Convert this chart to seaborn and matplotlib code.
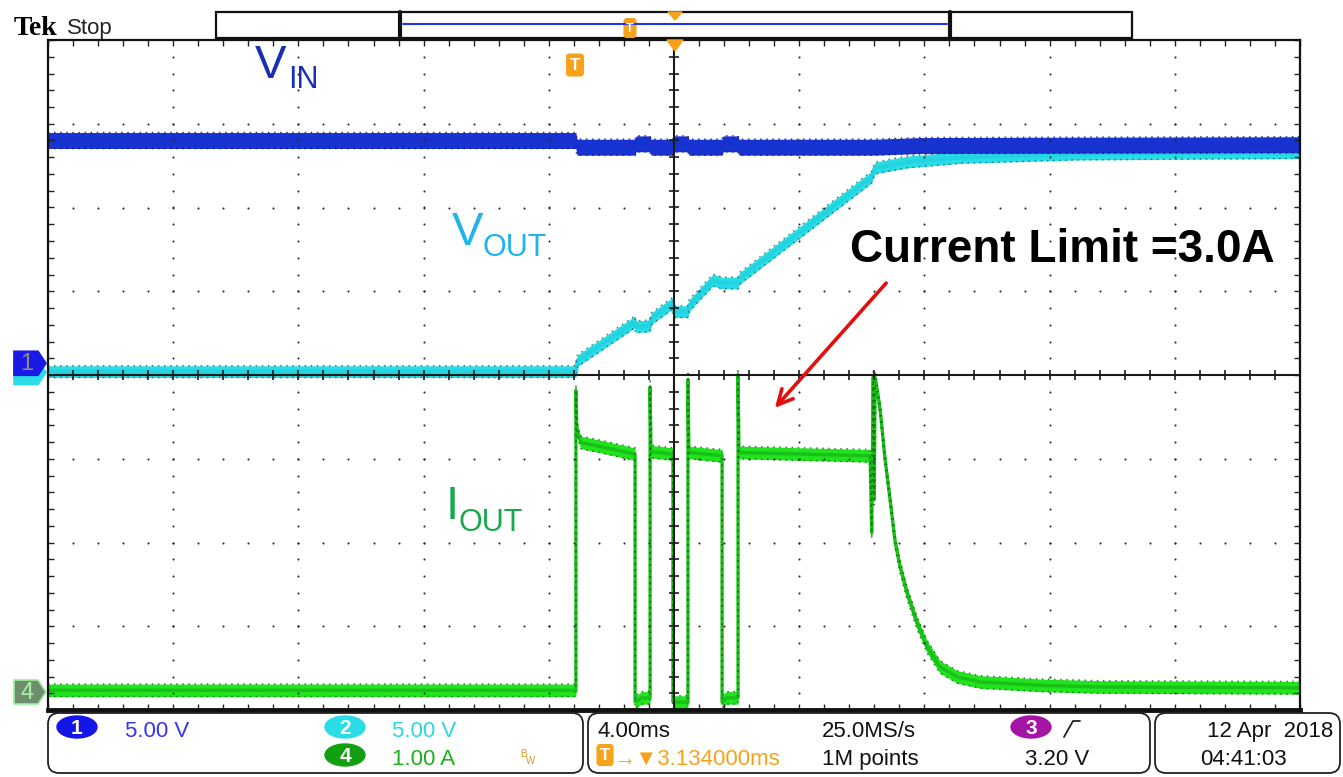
import logging
import numpy as np
import matplotlib
matplotlib.use("Agg")
import matplotlib.pyplot as plt
from matplotlib.patches import FancyBboxPatch, Polygon, Rectangle, Ellipse
import seaborn as sns

logging.getLogger("matplotlib.font_manager").setLevel(logging.ERROR)

W, H = 1343, 777

# ---- acquisition settings ----
time_per_div = 4.0          # ms/div
trig_delay = 3.134          # ms, screen centre relative to trigger
n_xdiv, n_ydiv = 10, 8

ch1_scale, ch1_pos = 5.0, 0.14     # V/div, ground marker (div from centre)
ch2_scale, ch2_pos = 5.0, 0.03
ch4_scale, ch4_pos = 1.0, -3.785   # A/div

# ---- captured waveforms (time in ms from trigger) ----
vin_t = [-16.87, 0.0, 0.03, 1.89, 1.92, 2.37, 2.40, 3.10, 3.13, 3.58, 3.61,
         4.67, 4.70, 5.18, 5.21, 9.5, 11.0, 23.14]
vin_v = [13.3, 13.3, 12.9, 12.9, 13.1, 13.1, 12.9, 12.9, 13.1, 13.1, 12.9,
         12.9, 13.1, 13.1, 12.9, 12.9, 13.0, 13.05]

vout_t = [-16.87, 0.0, 0.05, 1.89, 1.90, 2.37, 2.40, 3.10, 3.12, 3.58, 3.62,
          4.38, 4.67, 5.18, 5.22, 9.45, 9.55, 9.9, 10.6, 12.3, 16.0, 23.14]
vout_v = [0.05, 0.05, 0.7, 3.03, 2.73, 2.78, 3.2, 4.15, 3.63, 3.63, 4.0,
          5.52, 5.34, 5.34, 5.6, 11.67, 12.2, 12.33, 12.57, 12.84, 13.04, 13.13]

iout_t = [-16.87, 0.0, 0.0, 0.03, 0.15, 0.8, 1.89, 1.89, 2.1, 2.37, 2.37, 2.40,
          3.10, 3.10, 3.58, 3.58, 3.61, 4.67, 4.67, 4.8, 5.18, 5.18, 5.21,
          9.40, 9.45, 9.50, 9.53, 9.56, 9.65, 9.72, 9.88, 10.04, 10.20, 10.36,
          10.58, 10.90, 11.22, 11.63, 12.18, 12.91, 14.83, 16.74, 23.14]
iout_a = [0.02, 0.02, 3.60, 3.15, 2.98, 2.93, 2.84, -0.12, -0.07, -0.07, 3.64, 2.87,
          2.84, -0.12, -0.12, 3.73, 2.86, 2.82, -0.12, -0.07, -0.07, 3.79, 2.86,
          2.82, 1.90, 3.76, 2.30, 3.75, 3.55, 3.37, 2.77, 2.29, 1.79, 1.49,
          1.18, 0.82, 0.54, 0.30, 0.18, 0.12, 0.08, 0.06, 0.05]

# ---- readout text ----
ch_readout = [("1", "5.00 V"), ("2", "5.00 V"), ("4", "1.00 A")]
timebase = "4.00ms"
delay_text = "\u2192\u25bc3.134000ms"
sample_rate = "25.0MS/s"
record_len = "1M points"
trig_src, trig_level = "3", "3.20 V"
date_text, time_text = "12 Apr  2018", "04:41:03"

sns.set_theme(style="white")
plt.rcParams["font.family"] = ["Liberation Sans", "DejaVu Sans"]
scope_font = ["Liberation Sans Narrow", "Liberation Sans", "DejaVu Sans"]

fig = plt.figure(figsize=(W / 100, H / 100), dpi=100, facecolor="white")
rect = [48 / W, 1 - 710 / H, 1252 / W, 670 / H]
t_lo = trig_delay - n_xdiv / 2 * time_per_div
t_hi = trig_delay + n_xdiv / 2 * time_per_div


def channel_axes(scale, pos, z):
    a = fig.add_axes(rect, zorder=z)
    a.set_xlim(t_lo, t_hi)
    a.set_ylim((-n_ydiv / 2 - pos) * scale, (n_ydiv / 2 - pos) * scale)
    a.patch.set_alpha(0)
    a.axis("off")
    return a


def draw_trace(a, t, y, scale, half, band, core, speck, lw):
    t = np.asarray(t, float)
    y = np.asarray(y, float)
    h = half * scale
    a.fill_between(t, y - h, y + h, color=band, lw=0)
    sns.lineplot(x=t, y=y, ax=a, color=core, linewidth=lw,
                 sort=False, estimator=None)
    for s in (-1, 1):
        a.plot(t, y + s * h, color=speck, lw=1.1, ls=(0, (1, 3)), alpha=0.85)


ax4 = channel_axes(ch4_scale, ch4_pos, 1)
ax4.patch.set_alpha(1)
ax4.patch.set_facecolor("white")
draw_trace(ax4, iout_t, iout_a, ch4_scale, 0.075, "#22E41E", "#18C018", "#0C6E0C", 2.4)

ax2 = channel_axes(ch2_scale, ch2_pos, 2)
draw_trace(ax2, vout_t, vout_v, ch2_scale, 0.07, "#2ADCE6", "#22D4E0", "#0F6E74", 3.0)

ax1 = channel_axes(ch1_scale, ch1_pos, 3)
draw_trace(ax1, vin_t, vin_v, ch1_scale, 0.095, "#1932D2", "#1632CE", "#0B1670", 3.0)

# ---- graticule (division units) ----
g = fig.add_axes(rect, zorder=4)
g.patch.set_alpha(0)
g.set_xlim(0, n_xdiv)
g.set_ylim(-n_ydiv / 2, n_ydiv / 2)
g.grid(False)
for sp in g.spines.values():
    sp.set_color("#111111")
    sp.set_linewidth(1.6)
    sp.set_visible(True)
g.spines["bottom"].set_linewidth(3.5)
minor_x = np.arange(0, n_xdiv + 0.001, 0.2)
minor_y = np.arange(-n_ydiv / 2, n_ydiv / 2 + 0.001, 0.2)
g.set_xticks(minor_x)
g.set_yticks(minor_y)
g.tick_params(direction="in", length=4, width=1, color="#222222",
              top=True, right=True, bottom=True, left=True,
              labelbottom=False, labelleft=False)
dot_kw = dict(s=2.2, color="#2a2a2a", linewidths=0)
for k in range(1, n_xdiv):
    if k != n_xdiv // 2:
        g.scatter(np.full(len(minor_y[1:-1]), k), minor_y[1:-1], **dot_kw)
for m in range(-n_ydiv // 2 + 1, n_ydiv // 2):
    if m != 0:
        g.scatter(minor_x[1:-1], np.full(len(minor_x[1:-1]), m), **dot_kw)
g.axhline(0, color="#1a1a1a", lw=1.5)
g.axvline(n_xdiv / 2, color="#1a1a1a", lw=1.5)
g.plot(minor_x[1:-1], np.zeros(len(minor_x[1:-1])), ls="none",
       marker="|", ms=7, mew=1.2, color="#1a1a1a")
g.plot(np.full(len(minor_y[1:-1]), n_xdiv / 2), minor_y[1:-1], ls="none",
       marker="_", ms=7, mew=1.2, color="#1a1a1a")

# ---- screen decorations in pixel space ----
d = fig.add_axes([0, 0, 1, 1], zorder=5)
d.set_xlim(0, W)
d.set_ylim(H, 0)
d.patch.set_alpha(0)
d.axis("off")

orange = "#F7A21B"


def t_icon(cx, cy, w, h, fs):
    d.add_patch(FancyBboxPatch((cx - w / 2, cy - h / 2), w, h,
                               boxstyle="round,pad=0,rounding_size=3",
                               fc=orange, ec=orange, lw=0.8))
    d.text(cx, cy + 0.5, "T", color="white", fontsize=fs, fontweight="bold",
           ha="center", va="center")


# header
d.text(14, 35, "Tek", family="Liberation Serif", fontweight="bold",
       fontsize=20, color="black")
d.text(67, 34, "Stop", family=scope_font, fontsize=16, color="#222222")
d.add_patch(Rectangle((216, 12), 916, 26, fill=False, ec="#111111", lw=1.6))
d.plot([400, 400], [12, 38], color="#111111", lw=3)
d.plot([950, 950], [12, 38], color="#111111", lw=3)
d.plot([403, 947], [24, 24], color="#2233EE", lw=1.5)
t_icon(630, 28, 12, 19, 9)
d.add_patch(Polygon([(668, 12), (682, 12), (675, 20)], fc=orange, ec=orange))

# trigger markers on the graticule
d.add_patch(Polygon([(667, 40), (683, 40), (675, 51)], fc=orange, ec=orange))
t_icon(575, 65, 17, 22, 12)

# channel ground markers
def gnd_y(pos):
    return 375 - pos * 670 / n_ydiv


def gnd_marker(yc, fc, ec, label, tc):
    pts = [(14, yc - 12), (38, yc - 12), (46, yc), (38, yc + 12), (14, yc + 12)]
    d.add_patch(Polygon(pts, fc=fc, ec=ec, lw=1.2, closed=True))
    if label:
        d.text(27, yc + 1, label, color=tc, fontsize=17, ha="center", va="center",
               family=scope_font)


gnd_marker(gnd_y(ch2_pos), "#2ADCE6", "#2ADCE6", "", "white")
gnd_marker(gnd_y(ch1_pos), "#1A1AE6", "#1A1AE6", "1", "#8A8A8A")
gnd_marker(gnd_y(ch4_pos), "#6E8E6E", "#9AF09A", "4", "#A8F0A8")

# signal labels
d.text(255, 78, "V", color="#1A2FB5", fontsize=34)
d.text(288, 88, "IN", color="#1A2FB5", fontsize=22)
d.text(452, 245, "V", color="#1FB4EC", fontsize=34)
d.text(483, 256, "OUT", color="#1FB4EC", fontsize=22)
d.text(446, 519, "I", color="#1AA84C", fontsize=34)
d.text(458, 531, "OUT", color="#1AA84C", fontsize=22)

d.text(850, 262, "Current Limit =3.0A", color="black", fontsize=33,
       fontweight="bold")
d.annotate("", xy=(773, 410), xytext=(888, 281),
           arrowprops=dict(arrowstyle="->,head_length=0.9,head_width=0.45",
                           color="#E01010", lw=2.6))

# ---- status bar ----
for x0, wd in [(48, 535), (588, 562), (1155, 185)]:
    d.add_patch(FancyBboxPatch((x0, 713), wd, 60,
                               boxstyle="round,pad=0,rounding_size=11",
                               fill=False, ec="#222222", lw=1.3))


def badge(cx, cy, fc, label):
    d.add_patch(Ellipse((cx, cy), 40, 22, fc=fc, ec=fc))
    d.text(cx, cy + 1, label, color="white", fontsize=15, ha="center",
           va="center", family=scope_font, fontweight="bold")


st = dict(family=scope_font, fontsize=16, va="baseline")
badge(77, 727, "#1515E8", ch_readout[0][0])
d.text(125, 737, ch_readout[0][1], color="#3535F0", **st)
badge(345, 727, "#2ADCE6", ch_readout[1][0])
d.text(392, 737, ch_readout[1][1], color="#2CD6E2", **st)
badge(345, 755, "#12A012", ch_readout[2][0])
d.text(392, 765, ch_readout[2][1], color="#1EAE1E", **st)
d.text(520, 757, "B", color="#D89A20", fontsize=7, family=scope_font)
d.text(526, 764, "W", color="#D89A20", fontsize=7, family=scope_font)

d.text(597, 737, timebase, color="#111111", **st)
t_icon(605, 755, 16, 21, 12)
d.text(614, 765, delay_text, color=orange, **st)
d.text(822, 737, sample_rate, color="#111111", **st)
d.text(822, 765, record_len, color="#111111", **st)
badge(1031, 727, "#A515A5", trig_src)
d.plot([1064, 1073, 1080], [737, 721, 721], color="#222222", lw=1.3)
d.text(1025, 765, trig_level, color="#111111", **st)
d.text(1333, 737, date_text, color="#111111", ha="right", **st)
d.text(1200, 765, time_text, color="#111111", **st)

fig.savefig("out.png", dpi=100, facecolor="white")
